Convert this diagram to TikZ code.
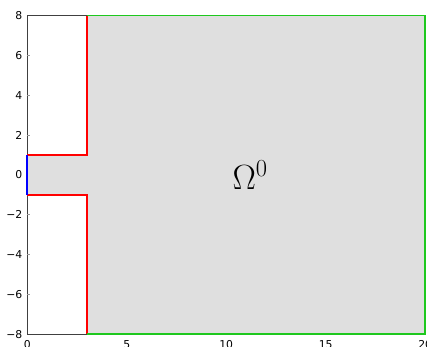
\RequirePackage{fix-cm}
\documentclass[tikz,border=0pt]{standalone}
\usepackage{fontspec}
\newfontfamily\ticksfont{DejaVu Sans}
\definecolor{domgray}{RGB}{223,223,223}
\definecolor{outgreen}{RGB}{30,200,30}
\tikzset{
  ticklbl/.style={font=\ticksfont\fontsize{15.5}{17}\selectfont, inner sep=0pt},
  bnd/.style={line width=2.2pt},
}
\begin{document}
\begin{tikzpicture}
\useasboundingbox (-1.37,-8.64) rectangle (20.09,8.79);
% domain
\fill[domgray] (0,-1) -- (3,-1) -- (3,-8) -- (20,-8) -- (20,8) -- (3,8) -- (3,1) -- (0,1) -- cycle;
% axes frame
\draw[black!75, line width=1pt] (3,8) -- (0,8) -- (0,-8) -- (3,-8);
\draw[black!40, line width=0.7pt] (0,6) -- (0.15,6);
\draw[black!40, line width=0.7pt] (0,4) -- (0.15,4);
\draw[black!40, line width=0.7pt] (0,2) -- (0.15,2);
\draw[black!40, line width=0.7pt] (0,-2) -- (0.15,-2);
\draw[black!40, line width=0.7pt] (0,-4) -- (0.15,-4);
\draw[black!40, line width=0.7pt] (0,-6) -- (0.15,-6);
% boundary pieces
\draw[bnd, red] (3,8) -- (3,1) -- (0,1);
\draw[bnd, red] (0,-1) -- (3,-1) -- (3,-8);
\draw[bnd, blue] (0,-1) -- (0,1);
\draw[bnd, outgreen] (3,8) -- (20,8) -- (20,-8) -- (3,-8);
% tick labels
\node[ticklbl, anchor=east] (y8) at (-0.24,8) {8};
\node[ticklbl, anchor=east] (y6) at (-0.24,6) {6};
\node[ticklbl, anchor=east] (y4) at (-0.24,4) {4};
\node[ticklbl, anchor=east] (y2) at (-0.24,2) {2};
\node[ticklbl, anchor=east] (y0) at (-0.24,0) {0};
\node[ticklbl, anchor=east] (ym2) at (-0.24,-2) {−2};
\node[ticklbl, anchor=east] (ym4) at (-0.24,-4) {−4};
\node[ticklbl, anchor=east] (ym6) at (-0.24,-6) {−6};
\node[ticklbl, anchor=east] (ym8) at (-0.24,-8) {−8};
\node[ticklbl, anchor=north] (x0) at (0,-8.32) {0};
\node[ticklbl, anchor=north] (x5) at (5,-8.32) {5};
\node[ticklbl, anchor=north] (x10) at (10,-8.32) {10};
\node[ticklbl, anchor=north] (x15) at (15,-8.32) {15};
\node[ticklbl, anchor=north] (x20) at (20,-8.32) {20};
% domain label
\node[font=\fontsize{50}{55}\selectfont] (omega) at (11.2,0) {$\Omega^0$};
\end{tikzpicture}
\end{document}
